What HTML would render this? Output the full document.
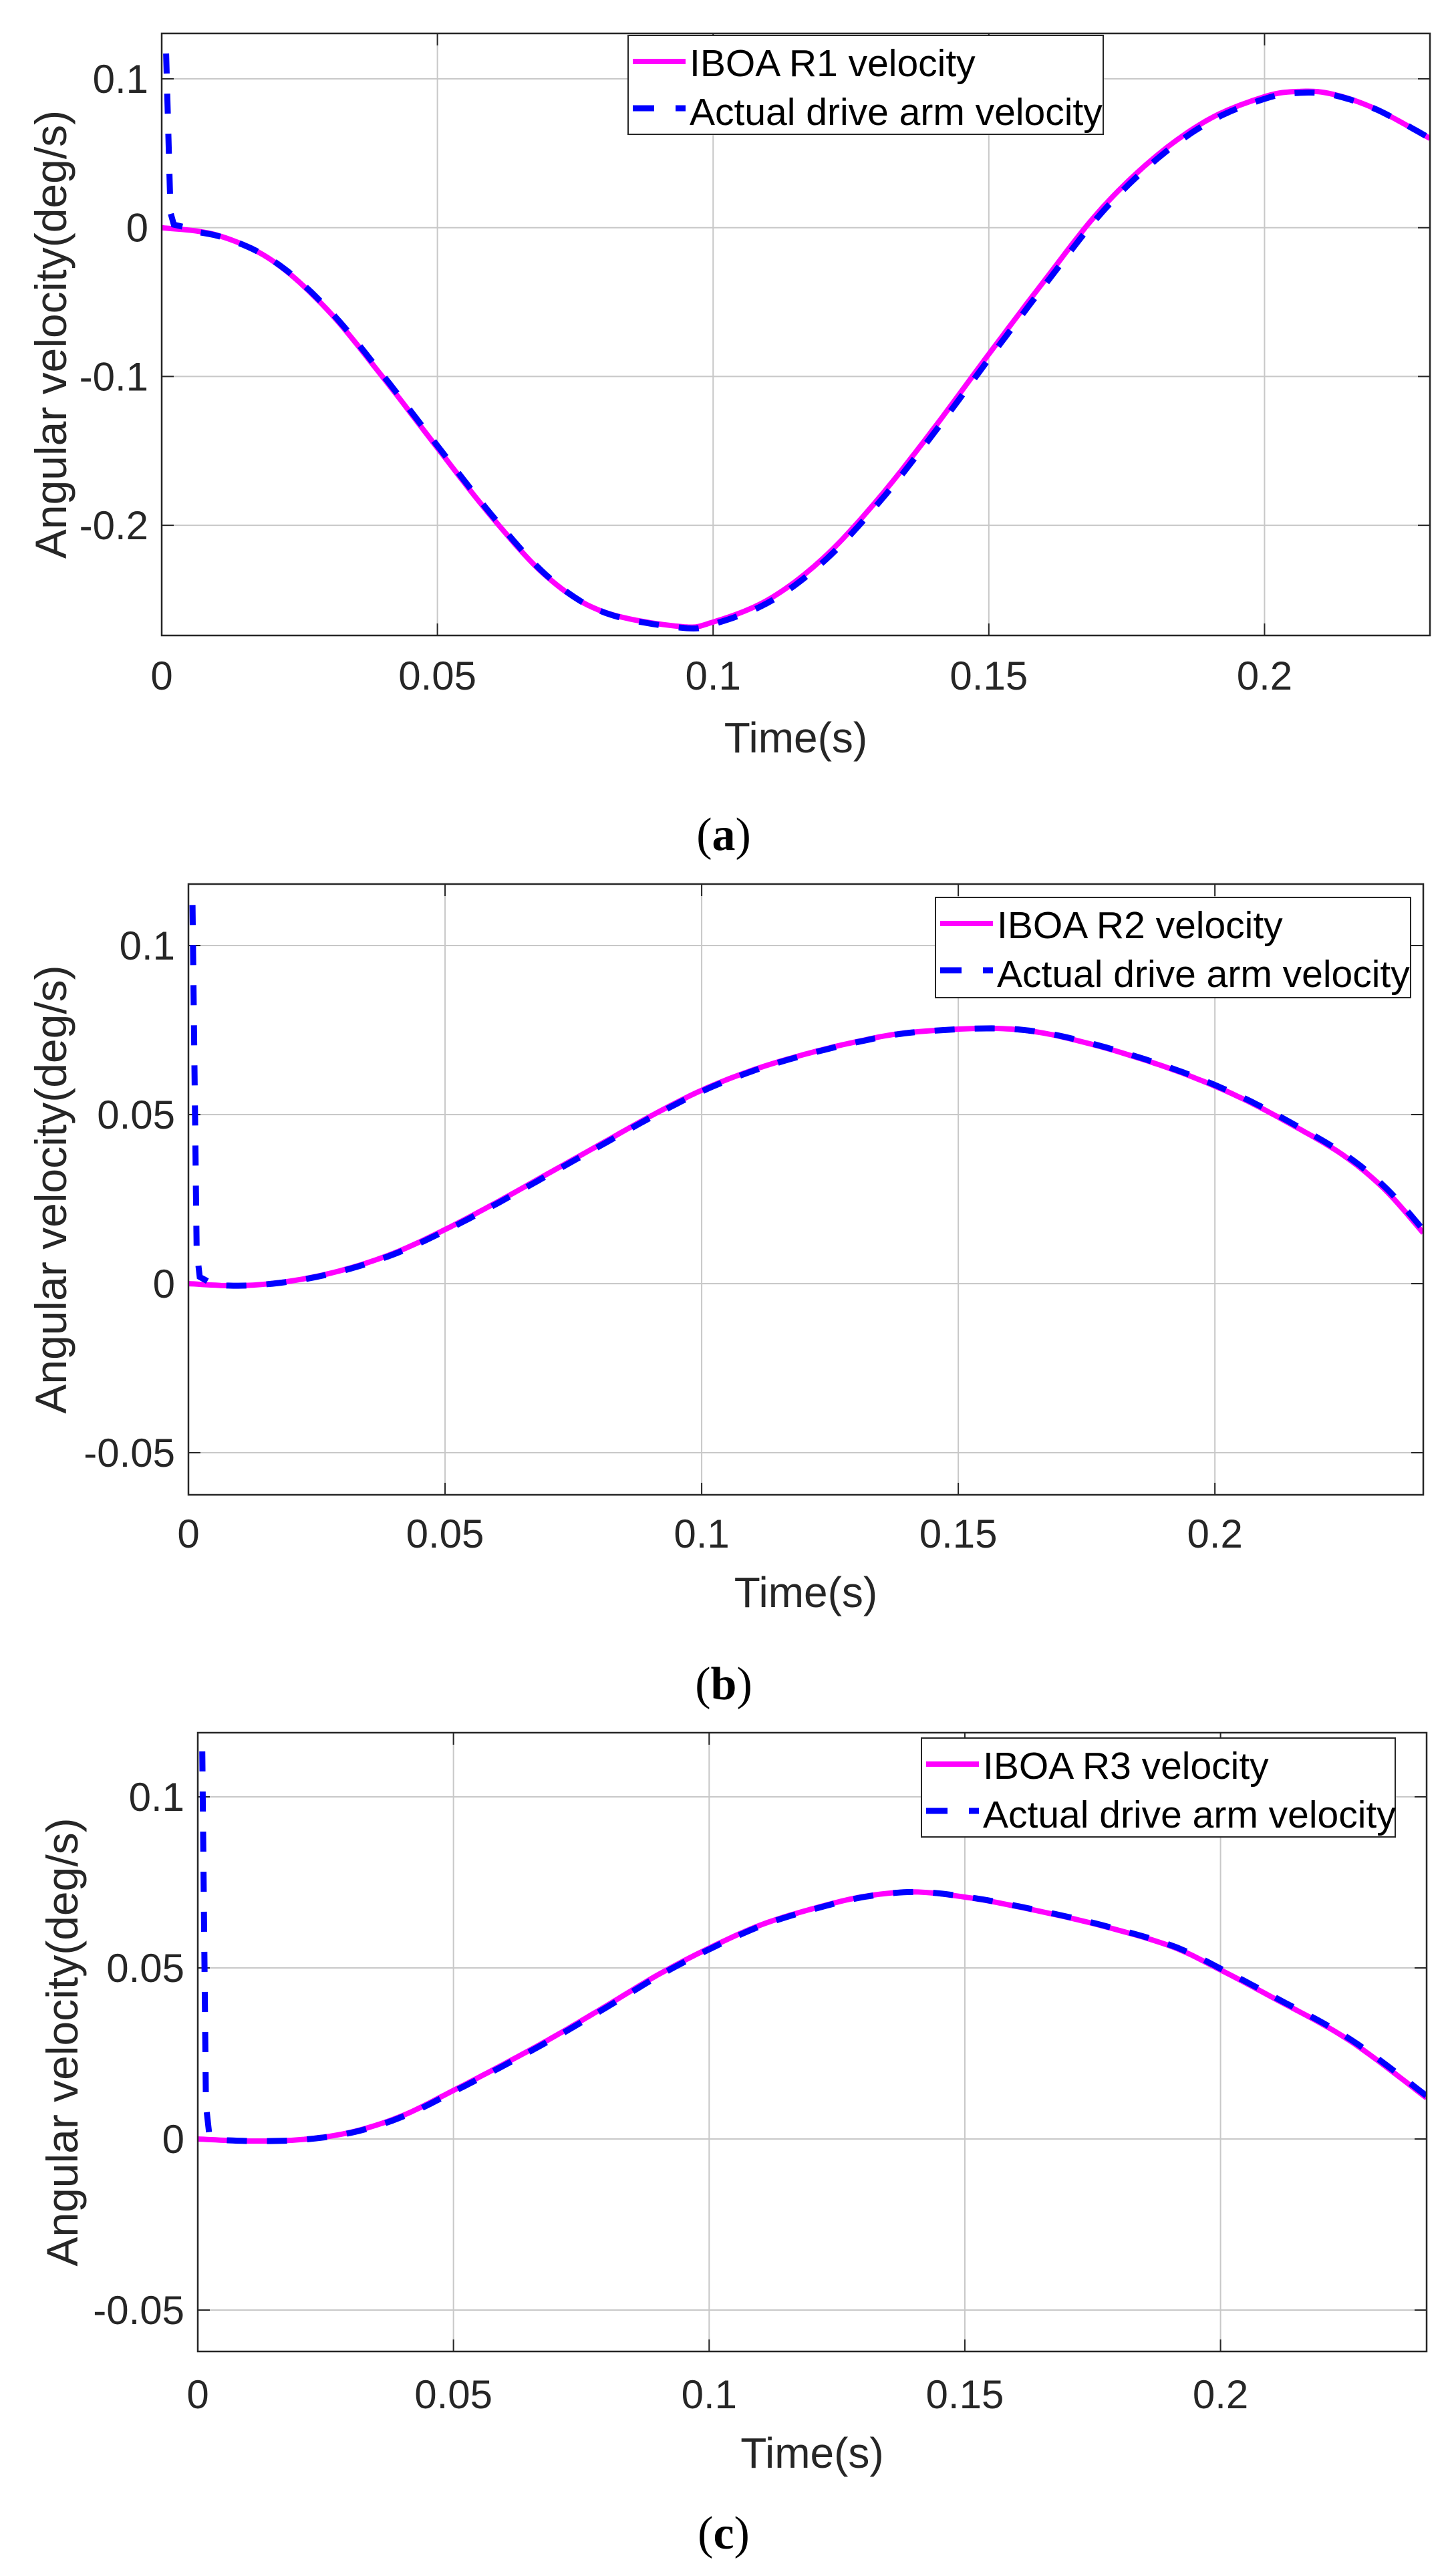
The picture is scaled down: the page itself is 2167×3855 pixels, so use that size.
<!DOCTYPE html>
<html><head><meta charset="utf-8"><style>
html,body{margin:0;padding:0;background:#fff;}
svg{display:block;}
.t{font-family:"Liberation Sans",Arial,sans-serif;fill:#262626;}
.cap{font-family:"Liberation Serif","DejaVu Serif",serif;fill:#000;}
</style></head><body>
<svg id="s" width="2167" height="3855" viewBox="0 0 2167 3855" xmlns="http://www.w3.org/2000/svg">
<rect width="2167" height="3855" fill="#fff"/>
<g id="root"></g>
</svg>
<script>
var NS="http://www.w3.org/2000/svg";
var root=document.getElementById('root');
function el(tag,attrs,parent,text){var e=document.createElementNS(NS,tag);for(var k in attrs)e.setAttribute(k,attrs[k]);if(text!==undefined)e.textContent=text;(parent||root).appendChild(e);return e;}
function cr(pts,n){
  var out=[];
  for(var i=0;i<pts.length-1;i++){
    var p0=pts[Math.max(0,i-1)],p1=pts[i],p2=pts[i+1],p3=pts[Math.min(pts.length-1,i+2)];
    for(var j=0;j<n;j++){var t=j/n,t2=t*t,t3=t2*t;
      var f=function(a,b,c,d){return 0.5*((2*b)+(-a+c)*t+(2*a-5*b+4*c-d)*t2+(-a+3*b-3*c+d)*t3);};
      out.push([f(p0[0],p1[0],p2[0],p3[0]),f(p0[1],p1[1],p2[1],p3[1])]);}
  }
  out.push(pts[pts.length-1]);return out;
}
var panels=[
 {L:242,R:2140,T:50,B:951,xmax:0.23,y0:340.7,yper:2227,yt:[[0.1,'0.1'],[0,'0'],[-0.1,'-0.1'],[-0.2,'-0.2']],
  leg:[940,53,1651,201],name:'IBOA R1 velocity',lab:76,xl:1011,tl:1103,cap:'a',capy:1248,spike:0.117,
  pts:[[0,0],[0.01,-0.005],[0.02,-0.022],[0.03,-0.055],[0.04,-0.1],[0.05,-0.148],[0.06,-0.195],[0.07,-0.235],[0.08,-0.258],[0.094,-0.268],[0.1,-0.265],[0.11,-0.25],[0.12,-0.222],[0.13,-0.182],[0.14,-0.135],[0.15,-0.085],[0.16,-0.036],[0.17,0.011],[0.18,0.047],[0.19,0.073],[0.2,0.088],[0.206,0.0915],[0.212,0.09],[0.22,0.08],[0.23,0.06]]},
 {L:282,R:2130,T:1323,B:2237,xmax:0.2406,y0:1921,yper:5060,yt:[[0.1,'0.1'],[0.05,'0.05'],[0,'0'],[-0.05,'-0.05']],
  leg:[1400,1343,2111,1493],name:'IBOA R2 velocity',lab:76,xl:2295,tl:2382,cap:'b',capy:2519,spike:0.112,
  pts:[[0,0],[0.01,-0.0006],[0.02,0.0008],[0.03,0.004],[0.04,0.009],[0.05,0.016],[0.06,0.024],[0.07,0.0325],[0.08,0.041],[0.09,0.0495],[0.1,0.0572],[0.11,0.0632],[0.12,0.0678],[0.13,0.0715],[0.14,0.0742],[0.155,0.0755],[0.165,0.0745],[0.175,0.0712],[0.185,0.0668],[0.195,0.0615],[0.205,0.055],[0.215,0.047],[0.225,0.038],[0.233,0.028],[0.2406,0.015]]},
 {L:296,R:2135,T:2593,B:3519,xmax:0.2403,y0:3201,yper:5120,yt:[[0.1,'0.1'],[0.05,'0.05'],[0,'0'],[-0.05,'-0.05']],
  leg:[1379,2601,2088,2749],name:'IBOA R3 velocity',lab:93,xl:3583,tl:3670,cap:'c',capy:3790,spike:0.125,
  pts:[[0,0],[0.01,-0.0006],[0.02,-0.0002],[0.03,0.002],[0.04,0.0068],[0.05,0.0142],[0.06,0.022],[0.07,0.0302],[0.08,0.039],[0.09,0.048],[0.1,0.0558],[0.11,0.0625],[0.12,0.0672],[0.13,0.0708],[0.14,0.0722],[0.15,0.0707],[0.16,0.068],[0.175,0.063],[0.19,0.0565],[0.2,0.0494],[0.21,0.0415],[0.225,0.029],[0.2403,0.012]]}
];
panels.forEach(function(p,idx){
  var sx=(p.R-p.L)/p.xmax;
  function X(t){return p.L+t*sx;} function Y(v){return p.y0-v*p.yper;}
  var g=el('g',{});
  var cid='c'+idx;
  var cp=el('clipPath',{id:cid},g);el('rect',{x:p.L,y:p.T,width:p.R-p.L,height:p.B-p.T},cp);
  [0.05,0.1,0.15,0.2].forEach(function(t){el('line',{x1:X(t),x2:X(t),y1:p.T,y2:p.B,stroke:'#c8c8c8','stroke-width':2},g);});
  p.yt.forEach(function(y){el('line',{x1:p.L,x2:p.R,y1:Y(y[0]),y2:Y(y[0]),stroke:'#c8c8c8','stroke-width':2},g);});
  [0,0.05,0.1,0.15,0.2].forEach(function(t){
    el('line',{x1:X(t),x2:X(t),y1:p.B,y2:p.B-18,stroke:'#262626','stroke-width':2},g);
    el('line',{x1:X(t),x2:X(t),y1:p.T,y2:p.T+18,stroke:'#262626','stroke-width':2},g);
    el('text',{x:X(t),y:p.xl+21,'font-size':60,'text-anchor':'middle','class':'t'},g,t===0?'0':String(t));
  });
  p.yt.forEach(function(y){
    el('line',{x1:p.L,x2:p.L+18,y1:Y(y[0]),y2:Y(y[0]),stroke:'#262626','stroke-width':2},g);
    el('line',{x1:p.R,x2:p.R-18,y1:Y(y[0]),y2:Y(y[0]),stroke:'#262626','stroke-width':2},g);
    el('text',{x:p.L-20,y:Y(y[0])+21,'font-size':60,'text-anchor':'end','class':'t'},g,y[1]);
  });
  var s=cr(p.pts,12);
  var d='M'+s.map(function(q){return X(q[0]).toFixed(1)+','+Y(q[1]).toFixed(1);}).join(' L');
  var cg=el('g',{'clip-path':'url(#'+cid+')'},g);
  el('path',{d:d,fill:'none',stroke:'#ff00ff','stroke-width':8,'stroke-linejoin':'round'},cg);
  var b=s.filter(function(q){return q[0]>=0.004;});
  var db='M'+X(0.0008).toFixed(1)+','+Y(p.spike).toFixed(1)+' L'+X(0.0016).toFixed(1)+','+Y(0.01).toFixed(1)+' L'+X(0.0022).toFixed(1)+','+Y(0.002).toFixed(1)+' L'+X(0.004).toFixed(1)+','+Y(0.0005).toFixed(1)+' L'+b.map(function(q){return (X(q[0])+4).toFixed(1)+','+(Y(q[1])+(idx==0?2:0)).toFixed(1);}).join(' L');
  el('path',{d:db,fill:'none',stroke:'#0000ff','stroke-width':9,'stroke-dasharray':'30,30'},cg);
  el('rect',{x:p.L,y:p.T,width:p.R-p.L,height:p.B-p.T,fill:'none',stroke:'#262626','stroke-width':2.5},g);
  var l=p.leg;
  el('rect',{x:l[0],y:l[1],width:l[2]-l[0],height:l[3]-l[1],fill:'#fff',stroke:'#262626','stroke-width':2},g);
  var r1=l[1]+39,r2=l[1]+109;
  el('line',{x1:l[0]+7,x2:l[0]+86,y1:r1,y2:r1,stroke:'#ff00ff','stroke-width':8},g);
  el('line',{x1:l[0]+7,x2:l[0]+86,y1:r2,y2:r2,stroke:'#0000ff','stroke-width':9,'stroke-dasharray':'32,32'},g);
  el('text',{x:l[0]+92,y:r1+22,'font-size':57,'class':'t',style:'fill:#000'},g,p.name);
  el('text',{x:l[0]+92,y:r2+25,'font-size':57,'class':'t',style:'fill:#000'},g,'Actual drive arm velocity');
  var cx=(p.L+p.R)/2;
  el('text',{x:cx,y:p.tl+23,'font-size':64,'text-anchor':'middle','class':'t'},g,'Time(s)');
  var cy=(p.T+p.B)/2;
  el('text',{x:0,y:0,'font-size':66,'text-anchor':'middle','class':'t',transform:'translate('+(p.lab+23)+','+cy+') rotate(-90)'},g,'Angular velocity(deg/s)');
  var ct=el('text',{x:1083,y:p.capy+24,'font-size':70,'text-anchor':'middle','class':'cap'},g);
  el('tspan',{},ct,'(');el('tspan',{'font-weight':'bold'},ct,p.cap);el('tspan',{},ct,')');
});
</script>
</body></html>
